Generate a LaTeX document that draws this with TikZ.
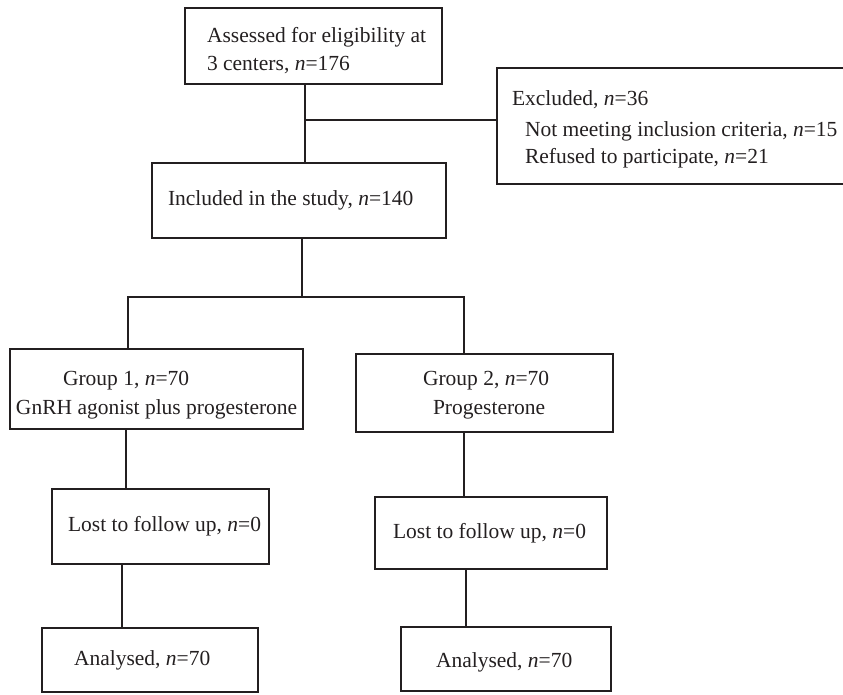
\documentclass[tikz,border=0pt]{standalone}
\usepackage{fontspec}
\setmainfont{Liberation Serif}
\definecolor{ink}{RGB}{35,31,32}
\tikzset{
  box/.style={draw=ink, line width=1.8pt, inner sep=0pt, outer sep=0pt},
  openbox/.style={draw=none, inner sep=0pt, outer sep=0pt},
  lbl/.style={anchor=base west, inner sep=0pt, outer sep=0pt, text=ink, font=\fontsize{21.5}{26}\selectfont},
  conn/.style={draw=ink, line width=1.3pt}
}
\begin{document}
\begin{tikzpicture}[x=1pt, y=-1pt]
\useasboundingbox (0,0) rectangle (843,694);
% boxes
\node[box, minimum width=257pt, minimum height=76pt] (b1) at (313.5,46) {};
\node[openbox, minimum width=347pt, minimum height=116pt] (exc) at (670.5,126) {};
\draw[ink, line width=1.8pt] (exc.north east) -- (exc.north west) -- (exc.south west) -- (exc.south east);
\node[box, minimum width=294pt, minimum height=75pt] (inc) at (299,200.5) {};
\node[box, minimum width=293pt, minimum height=80pt] (g1) at (156.5,389) {};
\node[box, minimum width=257pt, minimum height=78pt] (g2) at (484.5,393) {};
\node[box, minimum width=217pt, minimum height=75pt] (l1) at (160.5,526.5) {};
\node[box, minimum width=232pt, minimum height=72pt] (l2) at (491,533) {};
\node[box, minimum width=216pt, minimum height=64pt] (a1) at (150,660) {};
\node[box, minimum width=210pt, minimum height=64pt] (a2) at (506,659) {};
% texts
\node[lbl] (t1a) at (207,42) {Assessed for eligibility at};
\node[lbl] (t1b) at (207,70) {3 centers, \textit{n}=176};
\node[lbl] (te1) at (512,105) {Excluded, \textit{n}=36};
\node[lbl] (te2) at (525,136) {Not meeting inclusion criteria, \textit{n}=15};
\node[lbl] (te3) at (525,163) {Refused to participate, \textit{n}=21};
\node[lbl] (ti) at (168,205) {Included in the study, \textit{n}=140};
\node[lbl] (tg1a) at (63,385) {Group 1, \textit{n}=70};
\node[lbl] (tg1b) at (16,414) {GnRH agonist plus progesterone};
\node[lbl] (tg2a) at (423,385) {Group 2, \textit{n}=70};
\node[lbl] (tg2b) at (433,414) {Progesterone};
\node[lbl] (tl1) at (68,531) {Lost to follow up, \textit{n}=0};
\node[lbl] (tl2) at (393,538) {Lost to follow up, \textit{n}=0};
\node[lbl] (ta1) at (74,665) {Analysed, \textit{n}=70};
\node[lbl] (ta2) at (436,667) {Analysed, \textit{n}=70};
% connectors
\coordinate (j1) at (305,120);
\draw[conn] (j1 |- b1.south) -- (j1 |- inc.north);
\draw[conn] (j1) -- (j1 -| exc.west);
\coordinate (j2) at (302,297);
\draw[conn] (j2 |- inc.south) -- (j2);
\coordinate (bl) at (128,297);
\coordinate (br) at (464,297);
\draw[conn] (bl |- g1.north) -- (bl) -- (br) -- (br |- g2.north);
\coordinate (c1) at (126,0);
\coordinate (c2) at (464,0);
\coordinate (c3) at (122,0);
\coordinate (c4) at (466,0);
\draw[conn] (c1 |- g1.south) -- (c1 |- l1.north);
\draw[conn] (c2 |- g2.south) -- (c2 |- l2.north);
\draw[conn] (c3 |- l1.south) -- (c3 |- a1.north);
\draw[conn] (c4 |- l2.south) -- (c4 |- a2.north);
\end{tikzpicture}
\end{document}
